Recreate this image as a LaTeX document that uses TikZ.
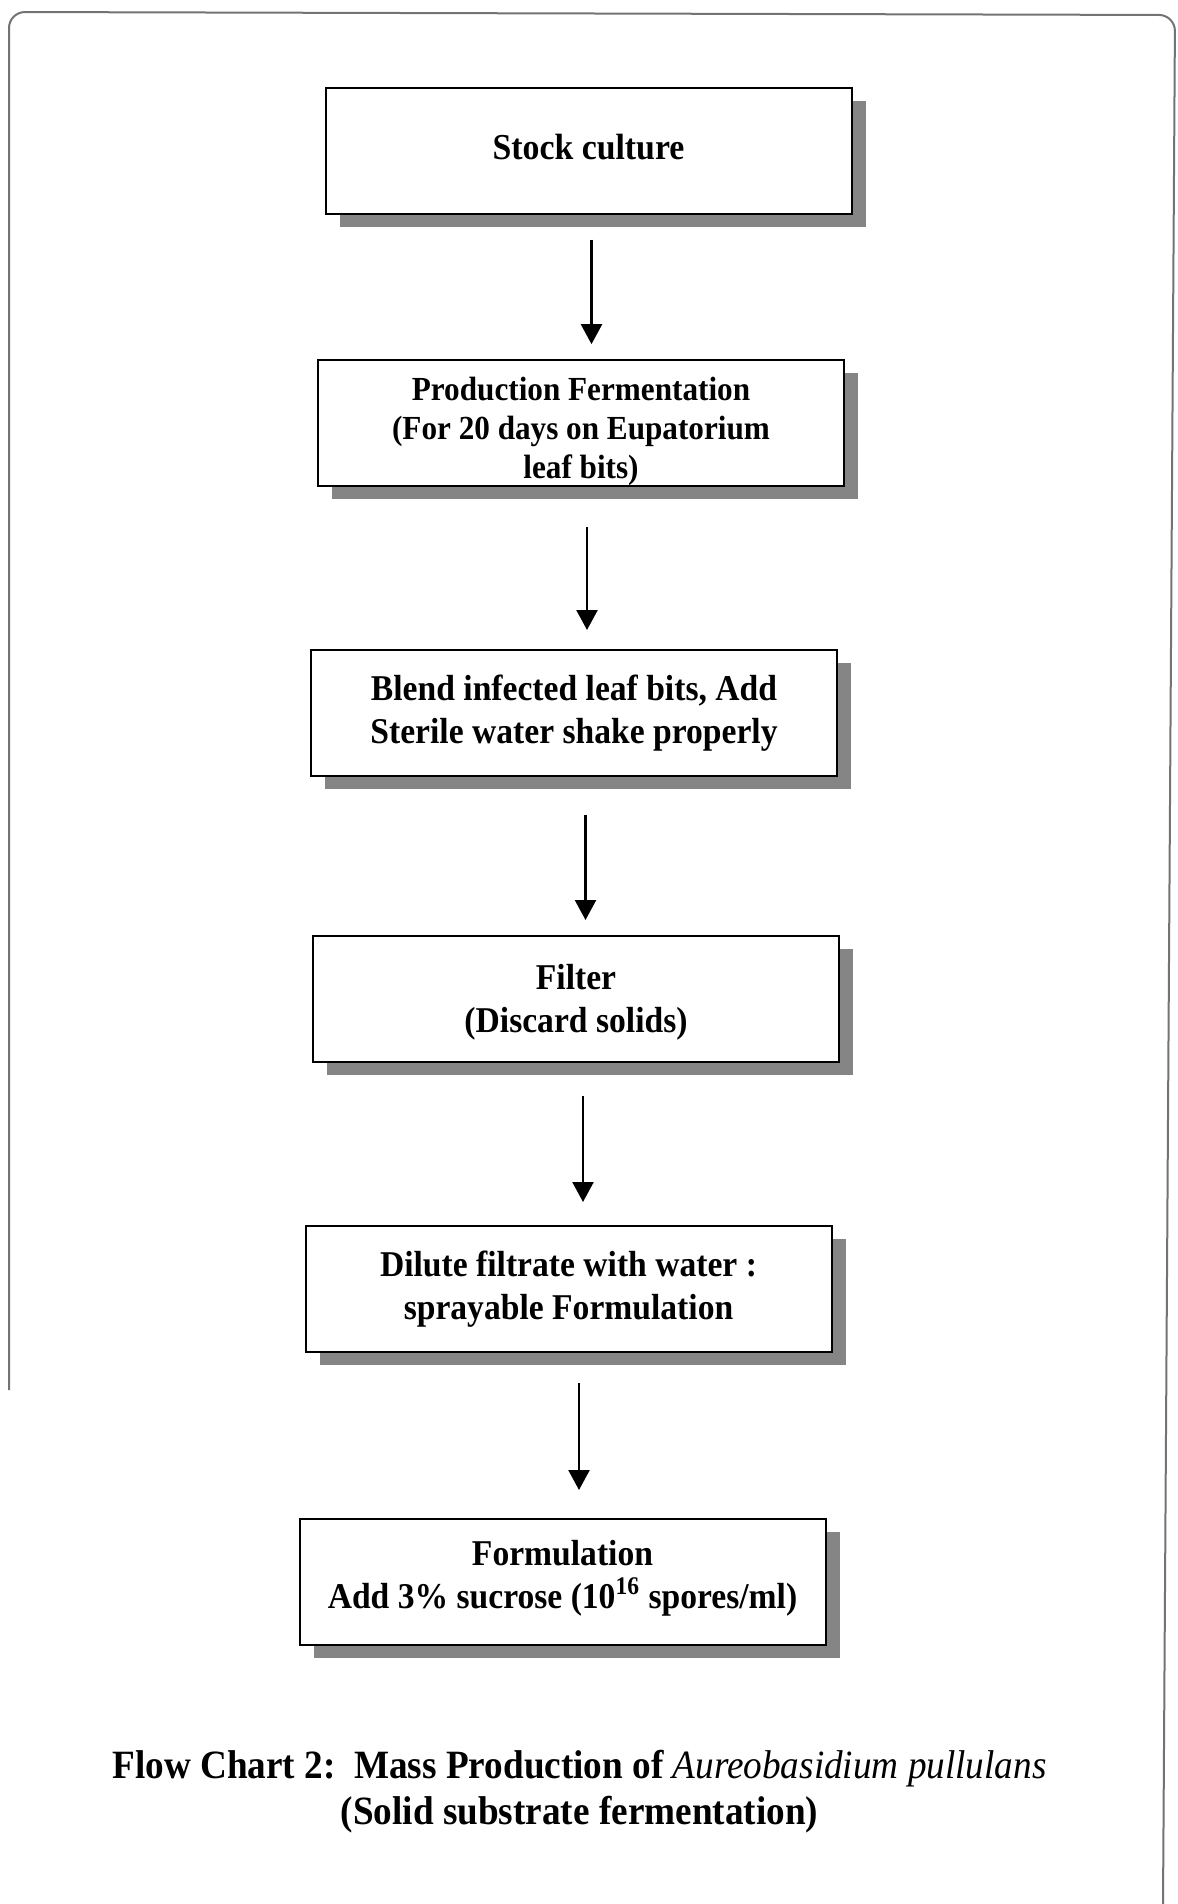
\documentclass[tikz,border=0pt]{standalone}
\usepackage{fontspec}
\usepackage{graphicx}
\setmainfont{Liberation Serif}
\usetikzlibrary{shadows,arrows.meta}
\newcommand{\vst}[1]{\scalebox{1}[1.08]{#1}}
\begin{document}
\begin{tikzpicture}[x=0.5pt,y=-0.5pt,
  stepbox/.style={draw=black, line width=1pt, fill=white,
    minimum width=263pt, minimum height=63pt, inner sep=0pt, align=center,
    font=\fontsize{16.8}{21.25}\selectfont\bfseries,
    drop shadow={shadow xshift=7pt, shadow yshift=-6.5pt, fill=black!48, opacity=1}},
  arr/.style={-{Triangle[width=10.5pt,length=10pt]}, line width=1.2pt},
  framec/.style={draw=black!55, line width=1pt}]
\useasboundingbox (0,0) rectangle (1177,1904);
\fill[white] (0,0) rectangle (1177,1904);
% outer frame
\draw[framec, rounded corners=8pt] (9,1390) -- (9,12) -- (1175,15) -- (1163,1904);
% boxes
\node[stepbox, font=\fontsize{16.9}{21}\selectfont\bfseries] (b1) at (588.5,150.75)
  {\rule[-4pt]{0pt}{4pt}\vst{Stock culture}};
\node[stepbox, font=\fontsize{15.6}{19.5}\selectfont\bfseries] (b2) at (581,422.75)
  {\rule{0pt}{20.5pt}\vst{Production Fermentation}\\\vst{(For 20 days on Eupatorium}\\\vst{leaf bits)}};
\node[stepbox] (b3) at (574,713)
  {\vst{Blend infected leaf bits, Add}\\\vst{Sterile water shake properly}};
\node[stepbox] (b4) at (576,999)
  {\rule{0pt}{16pt}\vst{Filter}\\\vst{(Discard solids)}};
\node[stepbox] (b5) at (568.5,1289)
  {\vst{Dilute filtrate with water :}\\\vst{sprayable Formulation}};
\node[stepbox] (b6) at (562.5,1582)
  {\vst{Formulation}\\\rule[-7.5pt]{0pt}{7.5pt}\vst{Add 3\% sucrose (10\textsuperscript{16} spores/ml)}};
% arrows
\draw[arr] ([xshift=1.5pt,yshift=-12.5pt]b1.south) -- ([xshift=5.25pt,yshift=7.25pt]b2.north);
\draw[arr] ([xshift=3pt,yshift=-20pt]b2.south) -- ([xshift=6.5pt,yshift=9.5pt]b3.north);
\draw[arr] ([xshift=5.75pt,yshift=-19pt]b3.south) -- ([xshift=4.75pt,yshift=7.5pt]b4.north);
\draw[arr] ([xshift=3.5pt,yshift=-16.5pt]b4.south) -- ([xshift=7.25pt,yshift=11.5pt]b5.north);
\draw[arr] ([xshift=5.25pt,yshift=-15pt]b5.south) -- ([xshift=8.25pt,yshift=14pt]b6.north);
% caption
\node[align=center, inner sep=0pt, font=\fontsize{18.6}{23}\selectfont\bfseries] (cap) at (579.5,1792)
  {\vst{Flow Chart 2:\ \ Mass Production of \textit{\mdseries Aureobasidium pullulans}}\\
   \vst{(Solid substrate fermentation)}};
\end{tikzpicture}
\end{document}
